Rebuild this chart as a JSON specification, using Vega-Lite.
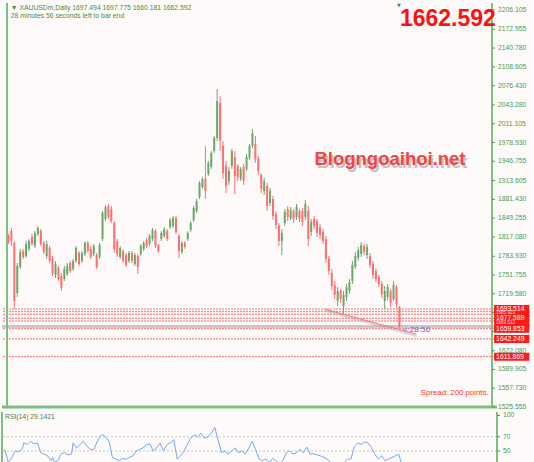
{
 "$schema": "https://vega.github.io/schema/vega-lite/v6.json",
 "background": "#fffafa",
 "padding": {"left": 0, "top": 2, "right": 0, "bottom": 0},
 "config": {"view": {"stroke": null}, "font": "Liberation Sans"},
 "spacing": 0,
 "datasets": {
  "candles": [
   {"i":0,"o":1818.7,"h":1822.1,"l":1805.0,"c":1808.4},
   {"i":1,"o":1827.3,"h":1832.4,"l":1801.6,"c":1810.1},
   {"i":2,"o":1806.7,"h":1810.1,"l":1693.6,"c":1707.3},
   {"i":3,"o":1721.0,"h":1772.4,"l":1714.2,"c":1767.3},
   {"i":4,"o":1765.6,"h":1796.4,"l":1762.2,"c":1791.3},
   {"i":5,"o":1793.0,"h":1796.4,"l":1779.3,"c":1782.7},
   {"i":6,"o":1784.4,"h":1810.1,"l":1781.0,"c":1805.0},
   {"i":7,"o":1796.4,"h":1813.6,"l":1793.0,"c":1810.1},
   {"i":8,"o":1817.0,"h":1822.1,"l":1801.6,"c":1805.0},
   {"i":9,"o":1801.6,"h":1827.3,"l":1798.1,"c":1823.9},
   {"i":10,"o":1822.1,"h":1835.9,"l":1818.7,"c":1832.4},
   {"i":11,"o":1827.3,"h":1830.7,"l":1801.6,"c":1805.0},
   {"i":12,"o":1806.7,"h":1810.1,"l":1787.9,"c":1791.3},
   {"i":13,"o":1784.4,"h":1810.1,"l":1779.3,"c":1805.0},
   {"i":14,"o":1798.1,"h":1801.6,"l":1772.4,"c":1775.9},
   {"i":15,"o":1779.3,"h":1784.4,"l":1750.2,"c":1755.3},
   {"i":16,"o":1751.9,"h":1775.9,"l":1746.7,"c":1770.7},
   {"i":17,"o":1763.9,"h":1767.3,"l":1741.6,"c":1745.0},
   {"i":18,"o":1750.2,"h":1755.3,"l":1724.4,"c":1729.6},
   {"i":19,"o":1745.0,"h":1767.3,"l":1741.6,"c":1762.2},
   {"i":20,"o":1753.6,"h":1772.4,"l":1750.2,"c":1767.3},
   {"i":21,"o":1772.4,"h":1775.9,"l":1755.3,"c":1758.7},
   {"i":22,"o":1762.2,"h":1779.3,"l":1758.7,"c":1775.9},
   {"i":23,"o":1775.9,"h":1801.6,"l":1772.4,"c":1798.1},
   {"i":24,"o":1789.6,"h":1793.0,"l":1767.3,"c":1770.7},
   {"i":25,"o":1775.9,"h":1793.0,"l":1772.4,"c":1789.6},
   {"i":26,"o":1787.9,"h":1810.1,"l":1784.4,"c":1806.7},
   {"i":27,"o":1806.7,"h":1810.1,"l":1789.6,"c":1793.0},
   {"i":28,"o":1796.4,"h":1801.6,"l":1779.3,"c":1782.7},
   {"i":29,"o":1787.9,"h":1805.0,"l":1784.4,"c":1801.6},
   {"i":30,"o":1786.1,"h":1789.6,"l":1762.2,"c":1765.6},
   {"i":31,"o":1782.7,"h":1806.7,"l":1779.3,"c":1803.3},
   {"i":32,"o":1813.6,"h":1861.6,"l":1810.1,"c":1858.1},
   {"i":33,"o":1847.9,"h":1871.8,"l":1844.4,"c":1868.4},
   {"i":34,"o":1870.1,"h":1873.6,"l":1847.9,"c":1851.3},
   {"i":35,"o":1865.0,"h":1870.1,"l":1841.0,"c":1844.4},
   {"i":36,"o":1841.0,"h":1844.4,"l":1789.6,"c":1796.4},
   {"i":37,"o":1810.1,"h":1813.6,"l":1782.7,"c":1787.9},
   {"i":38,"o":1782.7,"h":1801.6,"l":1779.3,"c":1798.1},
   {"i":39,"o":1793.0,"h":1796.4,"l":1772.4,"c":1775.9},
   {"i":40,"o":1786.1,"h":1789.6,"l":1765.6,"c":1769.0},
   {"i":41,"o":1775.9,"h":1793.0,"l":1772.4,"c":1789.6},
   {"i":42,"o":1789.6,"h":1793.0,"l":1772.4,"c":1775.9},
   {"i":43,"o":1770.7,"h":1789.6,"l":1767.3,"c":1786.1},
   {"i":44,"o":1784.4,"h":1787.9,"l":1753.6,"c":1765.6},
   {"i":45,"o":1787.9,"h":1805.0,"l":1784.4,"c":1801.6},
   {"i":46,"o":1796.4,"h":1810.1,"l":1793.0,"c":1806.7},
   {"i":47,"o":1811.9,"h":1815.3,"l":1798.1,"c":1801.6},
   {"i":48,"o":1805.0,"h":1822.1,"l":1801.6,"c":1818.7},
   {"i":49,"o":1813.6,"h":1832.4,"l":1810.1,"c":1829.0},
   {"i":50,"o":1827.3,"h":1830.7,"l":1798.1,"c":1801.6},
   {"i":51,"o":1803.3,"h":1805.0,"l":1789.6,"c":1793.0},
   {"i":52,"o":1813.6,"h":1827.3,"l":1810.1,"c":1823.9},
   {"i":53,"o":1818.7,"h":1834.1,"l":1815.3,"c":1830.7},
   {"i":54,"o":1827.3,"h":1830.7,"l":1810.1,"c":1813.6},
   {"i":55,"o":1834.1,"h":1849.6,"l":1830.7,"c":1846.1},
   {"i":56,"o":1835.9,"h":1853.0,"l":1832.4,"c":1849.6},
   {"i":57,"o":1849.6,"h":1853.0,"l":1822.1,"c":1825.6},
   {"i":58,"o":1818.7,"h":1822.1,"l":1781.0,"c":1793.0},
   {"i":59,"o":1791.3,"h":1810.1,"l":1787.9,"c":1806.7},
   {"i":60,"o":1806.7,"h":1810.1,"l":1796.4,"c":1799.9},
   {"i":61,"o":1813.6,"h":1827.3,"l":1810.1,"c":1823.9},
   {"i":62,"o":1829.0,"h":1844.4,"l":1825.6,"c":1841.0},
   {"i":63,"o":1846.1,"h":1870.1,"l":1842.7,"c":1866.7},
   {"i":64,"o":1861.6,"h":1882.1,"l":1858.1,"c":1878.7},
   {"i":65,"o":1885.6,"h":1913.0,"l":1882.1,"c":1909.6},
   {"i":66,"o":1902.7,"h":1919.8,"l":1899.3,"c":1916.4},
   {"i":67,"o":1916.4,"h":1973.0,"l":1882.1,"c":1895.8},
   {"i":68,"o":1925.0,"h":1947.3,"l":1921.6,"c":1943.8},
   {"i":69,"o":1937.0,"h":1964.4,"l":1933.6,"c":1961.0},
   {"i":70,"o":1964.4,"h":1990.1,"l":1961.0,"c":1986.7},
   {"i":71,"o":1986.7,"h":2070.7,"l":1981.5,"c":2050.1},
   {"i":72,"o":2046.7,"h":2058.7,"l":1964.4,"c":1981.5},
   {"i":73,"o":1973.0,"h":1981.5,"l":1916.4,"c":1926.7},
   {"i":74,"o":1938.7,"h":1947.3,"l":1892.4,"c":1904.4},
   {"i":75,"o":1913.0,"h":1937.0,"l":1906.1,"c":1930.1},
   {"i":76,"o":1938.7,"h":1967.8,"l":1933.6,"c":1964.4},
   {"i":77,"o":1954.1,"h":1964.4,"l":1890.7,"c":1921.6},
   {"i":78,"o":1938.7,"h":1942.1,"l":1913.0,"c":1919.8},
   {"i":79,"o":1916.4,"h":1937.0,"l":1913.0,"c":1933.6},
   {"i":80,"o":1937.0,"h":1942.1,"l":1906.1,"c":1913.0},
   {"i":81,"o":1933.6,"h":1959.3,"l":1930.1,"c":1954.1},
   {"i":82,"o":1952.4,"h":1976.4,"l":1949.0,"c":1973.0},
   {"i":83,"o":1973.0,"h":2002.1,"l":1969.5,"c":1995.3},
   {"i":84,"o":1976.4,"h":1990.1,"l":1943.8,"c":1950.7},
   {"i":85,"o":1950.7,"h":1955.8,"l":1923.3,"c":1930.1},
   {"i":86,"o":1923.3,"h":1926.7,"l":1892.4,"c":1899.3},
   {"i":87,"o":1895.8,"h":1918.1,"l":1889.0,"c":1913.0},
   {"i":88,"o":1904.4,"h":1909.6,"l":1861.6,"c":1870.1},
   {"i":89,"o":1875.3,"h":1901.0,"l":1870.1,"c":1895.8},
   {"i":90,"o":1882.1,"h":1887.3,"l":1846.1,"c":1853.0},
   {"i":91,"o":1856.4,"h":1861.6,"l":1830.7,"c":1837.6},
   {"i":92,"o":1835.9,"h":1841.0,"l":1801.6,"c":1810.1},
   {"i":93,"o":1810.1,"h":1830.7,"l":1786.1,"c":1823.9},
   {"i":94,"o":1841.0,"h":1865.0,"l":1835.9,"c":1859.9},
   {"i":95,"o":1865.0,"h":1870.1,"l":1844.4,"c":1851.3},
   {"i":96,"o":1849.6,"h":1868.4,"l":1846.1,"c":1863.3},
   {"i":97,"o":1861.6,"h":1865.0,"l":1841.0,"c":1847.9},
   {"i":98,"o":1851.3,"h":1873.6,"l":1846.1,"c":1868.4},
   {"i":99,"o":1861.6,"h":1865.0,"l":1842.7,"c":1847.9},
   {"i":100,"o":1861.6,"h":1866.7,"l":1835.9,"c":1842.7},
   {"i":101,"o":1851.3,"h":1880.4,"l":1846.1,"c":1873.6},
   {"i":102,"o":1861.6,"h":1870.1,"l":1801.6,"c":1813.6},
   {"i":103,"o":1825.6,"h":1847.9,"l":1818.7,"c":1842.7},
   {"i":104,"o":1847.9,"h":1853.0,"l":1830.7,"c":1835.9},
   {"i":105,"o":1844.4,"h":1847.9,"l":1817.0,"c":1823.9},
   {"i":106,"o":1834.1,"h":1839.3,"l":1813.6,"c":1820.4},
   {"i":107,"o":1825.6,"h":1830.7,"l":1805.0,"c":1810.1},
   {"i":108,"o":1813.6,"h":1818.7,"l":1772.4,"c":1779.3},
   {"i":109,"o":1779.3,"h":1784.4,"l":1751.9,"c":1758.7},
   {"i":110,"o":1755.3,"h":1762.2,"l":1726.2,"c":1733.0},
   {"i":111,"o":1734.7,"h":1741.6,"l":1710.7,"c":1717.6},
   {"i":112,"o":1707.3,"h":1731.3,"l":1698.7,"c":1724.4},
   {"i":113,"o":1724.4,"h":1727.9,"l":1703.9,"c":1710.7},
   {"i":114,"o":1698.7,"h":1724.4,"l":1685.0,"c":1717.6},
   {"i":115,"o":1714.2,"h":1736.4,"l":1707.3,"c":1731.3},
   {"i":116,"o":1724.4,"h":1745.0,"l":1719.3,"c":1739.9},
   {"i":117,"o":1741.6,"h":1775.9,"l":1736.4,"c":1769.0},
   {"i":118,"o":1765.6,"h":1791.3,"l":1762.2,"c":1784.4},
   {"i":119,"o":1781.0,"h":1799.9,"l":1775.9,"c":1794.7},
   {"i":120,"o":1787.9,"h":1808.4,"l":1782.7,"c":1803.3},
   {"i":121,"o":1801.6,"h":1805.0,"l":1786.1,"c":1791.3},
   {"i":122,"o":1786.1,"h":1805.0,"l":1779.3,"c":1799.9},
   {"i":123,"o":1784.4,"h":1789.6,"l":1763.9,"c":1769.0},
   {"i":124,"o":1770.7,"h":1775.9,"l":1745.0,"c":1751.9},
   {"i":125,"o":1758.7,"h":1763.9,"l":1739.9,"c":1745.0},
   {"i":126,"o":1748.4,"h":1751.9,"l":1731.3,"c":1736.4},
   {"i":127,"o":1736.4,"h":1741.6,"l":1712.4,"c":1719.3},
   {"i":128,"o":1707.3,"h":1733.0,"l":1693.6,"c":1724.4},
   {"i":129,"o":1714.2,"h":1736.4,"l":1709.0,"c":1731.3},
   {"i":130,"o":1724.4,"h":1727.9,"l":1697.0,"c":1703.9},
   {"i":131,"o":1710.7,"h":1741.6,"l":1707.3,"c":1734.7},
   {"i":132,"o":1731.3,"h":1734.7,"l":1695.3,"c":1702.2},
   {"i":133,"o":1697.494,"h":1697.775,"l":1660.181,"c":1662.592}
  ],
  "rsi": [
   {"i":0,"r":52.3},{"i":0.5,"r":50.9},{"i":1.6,"r":34.1},{"i":2.8,"r":40.9},{"i":3.9,"r":50},{"i":5.1,"r":49.1},{"i":6.2,"r":52.3},{"i":6.8,"r":61.4},{"i":7.9,"r":59.1},{"i":9,"r":63.6},{"i":10.2,"r":60},{"i":11.3,"r":61.4},{"i":12.4,"r":47.7},{"i":13.6,"r":45.5},{"i":14.7,"r":43.2},{"i":15.8,"r":36.4},{"i":16.4,"r":40.9},{"i":17,"r":34.1},{"i":18.1,"r":36.4},{"i":19.3,"r":46.4},{"i":20.4,"r":47.7},{"i":21.5,"r":44.5},{"i":22.7,"r":45.5},{"i":23.2,"r":61.4},{"i":24.4,"r":54.5},{"i":25.5,"r":59.1},{"i":26.6,"r":63.6},{"i":27.8,"r":56.8},{"i":28.9,"r":52.3},{"i":30.1,"r":52.3},{"i":31.8,"r":68.2},{"i":32.9,"r":73.5},{"i":34,"r":70},{"i":35.2,"r":63.6},{"i":36.3,"r":40.9},{"i":37.4,"r":38.6},{"i":38.6,"r":36.4},{"i":39.7,"r":39.5},{"i":40.8,"r":38.6},{"i":42,"r":40.9},{"i":43.1,"r":43.2},{"i":44.3,"r":50},{"i":45.4,"r":52.3},{"i":46.5,"r":54.5},{"i":47.7,"r":59.1},{"i":48.8,"r":60},{"i":49.9,"r":50},{"i":51.1,"r":54.5},{"i":52.2,"r":61.4},{"i":53.3,"r":50},{"i":54.5,"r":59.1},{"i":55.6,"r":61.4},{"i":56.8,"r":65.9},{"i":57.9,"r":38.6},{"i":59,"r":43.2},{"i":60.2,"r":50},{"i":61.3,"r":59.1},{"i":62.4,"r":68.2},{"i":63.6,"r":72.5},{"i":64.7,"r":70},{"i":65.8,"r":75},{"i":67,"r":68.2},{"i":68.1,"r":70},{"i":69.3,"r":75},{"i":70.4,"r":83.5},{"i":71.5,"r":65.9},{"i":72.7,"r":47.7},{"i":73.8,"r":50},{"i":74.9,"r":45.5},{"i":76.1,"r":50},{"i":77.2,"r":54.5},{"i":78.3,"r":47.7},{"i":79.5,"r":50},{"i":80.6,"r":45.5},{"i":81.8,"r":54.5},{"i":82.9,"r":63.6},{"i":84,"r":52.3},{"i":85.2,"r":38.6},{"i":86.3,"r":36.4},{"i":87.4,"r":38.6},{"i":88.6,"r":34.1},{"i":89.7,"r":39.5},{"i":90.8,"r":36.4},{"i":92,"r":31.8},{"i":93.1,"r":36.4},{"i":94.3,"r":47.7},{"i":95.4,"r":50},{"i":96.5,"r":45.5},{"i":97.7,"r":47.7},{"i":98.8,"r":52.3},{"i":99.9,"r":47.7},{"i":101.1,"r":55.5},{"i":102.2,"r":45.5},{"i":103.3,"r":46.4},{"i":104.5,"r":44.5},{"i":105.6,"r":43.2},{"i":106.8,"r":40.9},{"i":107.9,"r":38.6},{"i":109,"r":34.1},{"i":111.3,"r":29.5},{"i":113.6,"r":34.1},{"i":114.7,"r":38.6},{"i":115.8,"r":38.6},{"i":117,"r":56.8},{"i":118.1,"r":61.4},{"i":119.3,"r":59.1},{"i":120.4,"r":62.7},{"i":121.5,"r":61.4},{"i":122.7,"r":54.5},{"i":123.8,"r":45.5},{"i":124.9,"r":38.6},{"i":126.1,"r":43.2},{"i":127.2,"r":36.4},{"i":128.4,"r":38.6},{"i":129.5,"r":40.9},{"i":130.6,"r":43.2},{"i":131.8,"r":45.5},{"i":132.7,"r":31.8},{"i":133,"r":29.14}
  ],
  "pticks": [{"v":2206.105},{"v":2172.955},{"v":2140.78},{"v":2108.605},{"v":2076.43},{"v":2043.28},{"v":2011.105},{"v":1978.93},{"v":1946.755},{"v":1913.605},{"v":1881.43},{"v":1849.255},{"v":1817.08},{"v":1783.93},{"v":1751.755},{"v":1719.58},{"v":1687.405},{"v":1655.23},{"v":1622.08},{"v":1589.905},{"v":1557.73},{"v":1525.555}],
  "rticks": [{"v":100},{"v":70},{"v":50}],
  "lines": [{"lv":1693.514},{"lv":1688.963},{"lv":1684.5},{"lv":1677.589},{"lv":1673.0},{"lv":1659.853},{"lv":1642.249},{"lv":1611.869}],
  "boxes": [{"lv":1693.514},{"lv":1685.923},{"lv":1677.589},{"lv":1669.512},{"lv":1659.853},{"lv":1642.249},{"lv":1611.869}],
  "boxlabels": [{"lv":1693.514},{"lv":1677.589},{"lv":1659.853},{"lv":1642.249},{"lv":1611.869}],
  "smalllabels": [{"lv":1685.923},{"lv":1669.512}],
  "trend": [{"i":107.7,"p":1693.1},{"i":138.8,"p":1650.2}],
  "trendshadow": [{"i":107.7,"p":1690.6},{"i":138.8,"p":1647.0}],
  "bidask": [{"lv":1664.6},{"lv":1662.592}],
  "one": [{}]
 },
 "vconcat": [
  {
   "width": 495,
   "height": 404,
   "encoding": {
    "x": {"type": "quantitative", "scale": {"domain": [-0.5, 164.5], "nice": false, "zero": false}, "axis": null},
    "y": {"type": "quantitative", "scale": {"domain": [1525.555, 2218.07], "nice": false, "zero": false}, "axis": null}
   },
   "layer": [
    {
     "data": {"name": "lines"},
     "mark": {"type": "rule", "color": "#ff6a6a", "strokeWidth": 1, "strokeDash": [2, 1]},
     "encoding": {"y": {"field": "lv", "type": "quantitative"}}
    },
    {
     "data": {"name": "bidask"},
     "mark": {"type": "rule", "color": "#a8a8a8", "strokeWidth": 1},
     "encoding": {"y": {"field": "lv", "type": "quantitative"}}
    },
    {
     "data": {"name": "candles"},
     "mark": {"type": "rule", "strokeWidth": 1},
     "encoding": {
      "x": {"field": "i", "type": "quantitative"},
      "y": {"field": "h", "type": "quantitative"},
      "y2": {"field": "l"},
      "color": {"condition": {"test": "datum.c >= datum.o", "value": "#6aa86a"}, "value": "#ff6f6f"}
     }
    },
    {
     "data": {"name": "candles"},
     "mark": {"type": "bar", "size": 2},
     "encoding": {
      "x": {"field": "i", "type": "quantitative"},
      "y": {"field": "o", "type": "quantitative"},
      "y2": {"field": "c"},
      "color": {"condition": {"test": "datum.c >= datum.o", "value": "#6aa86a"}, "value": "#ff6f6f"}
     }
    },
    {
     "data": {"name": "trendshadow"},
     "mark": {"type": "line", "color": "#b0b0b0", "strokeWidth": 2, "opacity": 0.5},
     "encoding": {"x": {"field": "i", "type": "quantitative"}, "y": {"field": "p", "type": "quantitative"}}
    },
    {
     "data": {"name": "trend"},
     "mark": {"type": "line", "color": "#f07070", "strokeWidth": 1},
     "encoding": {"x": {"field": "i", "type": "quantitative"}, "y": {"field": "p", "type": "quantitative"}}
    },
    {
     "data": {"name": "one"},
     "mark": {"type": "rule", "color": "#7fbf7f", "strokeWidth": 2},
     "encoding": {"x": {"datum": -0.5, "type": "quantitative"}}
    },
    {
     "data": {"name": "one"},
     "mark": {"type": "rule", "color": "#7fbf7f", "strokeWidth": 2},
     "encoding": {"x": {"datum": 164.5, "type": "quantitative"}}
    },
    {
     "data": {"name": "one"},
     "mark": {"type": "rule", "color": "#7fbf7f", "strokeWidth": 3},
     "encoding": {"y": {"datum": 1525.555, "type": "quantitative"}}
    },
    {
     "data": {"name": "pticks"},
     "mark": {"type": "rule", "color": "#4c9a4c", "strokeWidth": 1, "clip": false},
     "encoding": {"x": {"datum": 164.5, "type": "quantitative"}, "x2": {"datum": 165.5}, "y": {"field": "v", "type": "quantitative"}}
    },
    {
     "data": {"name": "pticks"},
     "mark": {"type": "text", "color": "#4c9a4c", "fontSize": 6.8, "align": "left", "baseline": "middle", "font": "Liberation Sans", "clip": false},
     "encoding": {"x": {"datum": 166.5, "type": "quantitative"}, "y": {"field": "v", "type": "quantitative"}, "text": {"field": "v", "format": ".3f"}}
    },
    {
     "data": {"name": "boxes"},
     "mark": {"type": "rule", "color": "#ff1a1a", "strokeWidth": 8, "strokeCap": "butt", "clip": false},
     "encoding": {"x": {"datum": 165.2, "type": "quantitative"}, "x2": {"datum": 177.2}, "y": {"field": "lv", "type": "quantitative"}}
    },
    {
     "data": {"name": "boxlabels"},
     "mark": {"type": "text", "color": "#ffffff", "fontSize": 6.8, "font": "Liberation Sans", "align": "left", "baseline": "middle", "clip": false},
     "encoding": {"x": {"datum": 165.9, "type": "quantitative"}, "y": {"field": "lv", "type": "quantitative"}, "text": {"field": "lv", "format": ".3f"}}
    },
    {
     "data": {"name": "smalllabels"},
     "mark": {"type": "text", "color": "#ffdede", "fontSize": 4.5, "font": "Liberation Sans", "align": "left", "baseline": "middle", "clip": false},
     "encoding": {"x": {"datum": 165.9, "type": "quantitative"}, "y": {"field": "lv", "type": "quantitative"}, "text": {"field": "lv", "format": ".3f"}}
    },
    {
     "data": {"name": "one"},
     "mark": {"type": "text", "text": "\u25bc XAUUSDm,Daily  1697.494 1697.775 1660.181 1662.592", "color": "#3f8f3f", "fontSize": 6.8, "align": "left", "baseline": "middle", "font": "Liberation Sans"},
     "encoding": {"x": {"datum": 0.8, "type": "quantitative"}, "y": {"datum": 2209.5, "type": "quantitative"}}
    },
    {
     "data": {"name": "one"},
     "mark": {"type": "text", "text": "28 minutes 56 seconds left to bar end", "color": "#3f8f3f", "fontSize": 6.8, "align": "left", "baseline": "middle", "font": "Liberation Sans"},
     "encoding": {"x": {"datum": 0.8, "type": "quantitative"}, "y": {"datum": 2195.8, "type": "quantitative"}}
    },
    {
     "data": {"name": "one"},
     "mark": {"type": "text", "text": "1662.592", "color": "#ff1010", "fontSize": 23, "fontWeight": "bold", "align": "right", "baseline": "middle", "font": "Liberation Sans", "clip": false},
     "encoding": {"x": {"datum": 165.8, "type": "quantitative"}, "y": {"datum": 2190.6, "type": "quantitative"}}
    },
    {
     "data": {"name": "one"},
     "mark": {"type": "text", "text": "Blogngoaihoi.net", "color": "#808080", "opacity": 0.45, "dx": 2, "dy": 3, "fontSize": 18.5, "fontWeight": "bold", "align": "center", "baseline": "middle", "font": "Liberation Sans"},
     "encoding": {"x": {"datum": 129.8, "type": "quantitative"}, "y": {"datum": 1950.7, "type": "quantitative"}}
    },
    {
     "data": {"name": "one"},
     "mark": {"type": "text", "text": "Blogngoaihoi.net", "color": "#f04545", "fontSize": 18.5, "fontWeight": "bold", "align": "center", "baseline": "middle", "font": "Liberation Sans"},
     "encoding": {"x": {"datum": 129.8, "type": "quantitative"}, "y": {"datum": 1950.7, "type": "quantitative"}}
    },
    {
     "data": {"name": "one"},
     "mark": {"type": "text", "text": "Spread: 200 points.", "color": "#ff3030", "fontSize": 7.8, "align": "right", "baseline": "alphabetic", "font": "Liberation Sans"},
     "encoding": {"x": {"datum": 163.3, "type": "quantitative"}, "y": {"datum": 1546.2, "type": "quantitative"}}
    },
    {
     "data": {"name": "one"},
     "mark": {"type": "text", "text": "< 28:56", "color": "#5a6ee0", "fontSize": 8, "align": "left", "baseline": "middle", "font": "Liberation Sans"},
     "encoding": {"x": {"datum": 134.2, "type": "quantitative"}, "y": {"datum": 1657.6, "type": "quantitative"}}
    },
    {
     "data": {"name": "one"},
     "mark": {"type": "text", "text": "\u25bc", "color": "#707070", "fontSize": 5, "align": "center", "baseline": "top", "font": "DejaVu Sans"},
     "encoding": {"x": {"datum": 132.8, "type": "quantitative"}, "y": {"datum": 2217.5, "type": "quantitative"}}
    }
   ]
  },
  {
   "width": 495,
   "height": 74.5,
   "encoding": {
    "x": {"type": "quantitative", "scale": {"domain": [-0.5, 164.5], "nice": false, "zero": false}, "axis": null},
    "y": {"type": "quantitative", "scale": {"domain": [0, 104.9], "nice": false, "zero": false}, "axis": null}
   },
   "layer": [
    {
     "data": {"name": "one"},
     "mark": {"type": "rule", "color": "#c4c4c4", "strokeWidth": 1, "strokeDash": [2, 2]},
     "encoding": {"y": {"datum": 70, "type": "quantitative"}}
    },
    {
     "data": {"name": "one"},
     "mark": {"type": "rule", "color": "#c4c4c4", "strokeWidth": 1, "strokeDash": [2, 2]},
     "encoding": {"y": {"datum": 50, "type": "quantitative"}}
    },
    {
     "data": {"name": "one"},
     "mark": {"type": "rule", "color": "#c4c4c4", "strokeWidth": 1, "strokeDash": [2, 2]},
     "encoding": {"y": {"datum": 30, "type": "quantitative"}}
    },
    {
     "data": {"name": "rsi"},
     "mark": {"type": "line", "color": "#6ea8f2", "strokeWidth": 1, "clip": true},
     "encoding": {"x": {"field": "i", "type": "quantitative"}, "y": {"field": "r", "type": "quantitative"}}
    },
    {
     "data": {"name": "one"},
     "mark": {"type": "rule", "color": "#7fbf7f", "strokeWidth": 2},
     "encoding": {"x": {"datum": -0.5, "type": "quantitative"}}
    },
    {
     "data": {"name": "one"},
     "mark": {"type": "rule", "color": "#7fbf7f", "strokeWidth": 2},
     "encoding": {"x": {"datum": 164.5, "type": "quantitative"}}
    },
    {
     "data": {"name": "rticks"},
     "mark": {"type": "rule", "color": "#4c9a4c", "strokeWidth": 1, "clip": false},
     "encoding": {"x": {"datum": 164.5, "type": "quantitative"}, "x2": {"datum": 165.5}, "y": {"field": "v", "type": "quantitative"}}
    },
    {
     "data": {"name": "rticks"},
     "mark": {"type": "text", "color": "#4c9a4c", "fontSize": 6.8, "align": "left", "baseline": "middle", "font": "Liberation Sans", "clip": false},
     "encoding": {"x": {"datum": 166.5, "type": "quantitative"}, "y": {"field": "v", "type": "quantitative"}, "text": {"field": "v", "format": "d"}}
    },
    {
     "data": {"name": "one"},
     "mark": {"type": "text", "text": "RSI(14) 29.1421", "color": "#4a7a4a", "fontSize": 6.8, "align": "left", "baseline": "middle", "font": "Liberation Sans"},
     "encoding": {"x": {"datum": 0.5, "type": "quantitative"}, "y": {"datum": 98.5, "type": "quantitative"}}
    }
   ]
  }
 ]
}
